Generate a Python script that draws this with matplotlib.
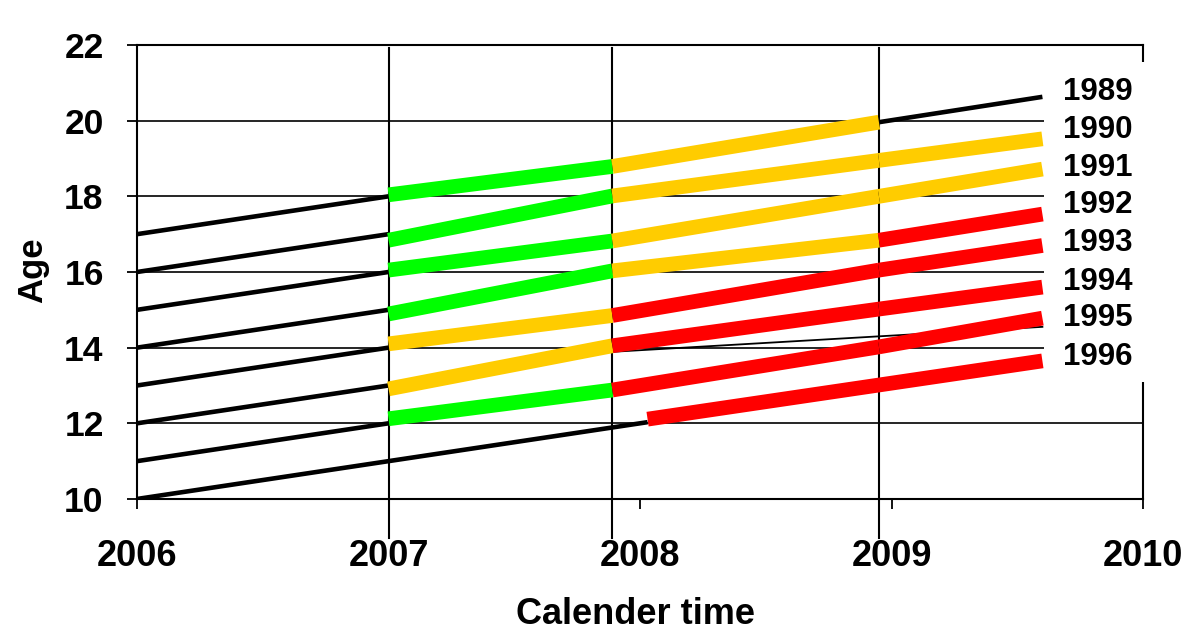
import numpy as np
import matplotlib.pyplot as plt
from matplotlib.patches import Rectangle

plt.rcParams['font.family'] = ['Liberation Sans', 'DejaVu Sans']
plt.rcParams['font.weight'] = 'bold'

cohorts = [1989, 1990, 1991, 1992, 1993, 1994, 1995, 1996]

# thin black lines from 2006
black_age0 = [17, 16, 15, 14, 13, 12, 11, 10]
black_t1 = [2007, 2007, 2007, 2007, 2007, 2007, 2007, 2008.03]
black_age1 = [18, 17, 16, 15, 14, 13, 12, 12.03]

# coloured parts, ages read where they cross the drawn lines and at the end
break_t = [2007.0, 2007.89, 2008.95, 2009.6]
age_1989 = [18.04, 18.79, 19.96, 20.63]
age_1990 = [16.84, 18.01, 18.95, 19.52]
age_1991 = [16.05, 16.82, 18.0, 18.72]
age_1992 = [14.89, 16.03, 16.84, 17.53]
age_1993 = [14.10, 14.85, 16.05, 16.70]
age_1994 = [12.91, 14.05, 15.02, 15.60]
age_1995 = [12.12, 12.88, 14.02, 14.78]
status_1989 = ['green', 'yellow', 'none']
status_1990 = ['green', 'yellow', 'yellow']
status_1991 = ['green', 'yellow', 'yellow']
status_1992 = ['green', 'yellow', 'red']
status_1993 = ['yellow', 'red', 'red']
status_1994 = ['yellow', 'red', 'red']
status_1995 = ['green', 'red', 'red']

# 1996 only gets red late
t_1996 = [2008.03, 2009.6]
age_1996 = [12.11, 13.65]

# stray thin line under 1995
extra_t = [2007.89, 2009.6]
extra_age = [13.89, 14.55]

# hand drawn vertical lines
mark_t = [2007.0, 2007.89, 2008.95]

label_age = [20.76, 19.75, 18.75, 17.77, 16.77, 15.74, 14.78, 13.75]

colors = {'green': '#00ff00', 'yellow': '#ffcc00', 'red': '#ff0000'}

fig = plt.figure(figsize=(12, 6.44), dpi=100)
ax = fig.add_axes([0.1142, 0.2252, 0.8383, 0.7049])
ax.set_xlim(2006, 2010)
ax.set_ylim(10, 22)

ax.set_yticks(np.arange(10, 23, 2))
ax.set_xticks([2006, 2007, 2008, 2009, 2010])
ax.yaxis.grid(True, color='black', linewidth=1.2)
ax.set_axisbelow(True)
for s in ax.spines.values():
    s.set_linewidth(1.5)
ax.tick_params(axis='y', length=7, width=1.3, pad=17, labelsize=25.5)
ax.tick_params(axis='x', length=7, width=1.3, pad=22, labelsize=26)

for x in mark_t:
    ax.axvline(x, ymin=-0.085, ymax=0.993, color='black', linewidth=1.5,
               clip_on=False, zorder=2)

for i in range(len(cohorts)):
    ax.plot([2006, black_t1[i]], [black_age0[i], black_age1[i]], color='black',
            linewidth=3.3, solid_capstyle='butt', zorder=3)

ages = [age_1989, age_1990, age_1991, age_1992, age_1993, age_1994, age_1995]
status = [status_1989, status_1990, status_1991, status_1992, status_1993,
          status_1994, status_1995]
for a, st in zip(ages, status):
    for j in range(3):
        if st[j] == 'none':
            ax.plot(break_t[j:j + 2], a[j:j + 2], color='black', linewidth=3.3,
                    solid_capstyle='butt', zorder=3)
        else:
            ax.plot(break_t[j:j + 2], a[j:j + 2], color=colors[st[j]],
                    linewidth=10.6, solid_capstyle='butt', zorder=4)

ax.plot(extra_t, extra_age, color='black', linewidth=1.3, zorder=3)
ax.plot(t_1996, age_1996, color=colors['red'], linewidth=10.6,
        solid_capstyle='butt', zorder=4)

# white box behind the year labels
ax.add_patch(Rectangle((2009.607, 13.09), 0.6, 8.46, facecolor='white',
                       edgecolor='none', clip_on=False, zorder=5))
for c, y in zip(cohorts, label_age):
    ax.text(2009.68, y, str(c), fontsize=22.5, fontweight='bold',
            ha='left', va='center', zorder=6)

ax.set_xlabel('Calender time', fontsize=26, fontweight='bold')
ax.set_ylabel('Age', fontsize=25, fontweight='bold')
ax.xaxis.set_label_coords(0.496, -0.215)
ax.yaxis.set_label_coords(-0.087, 0.504)

fig.savefig('out.png', dpi=100)
